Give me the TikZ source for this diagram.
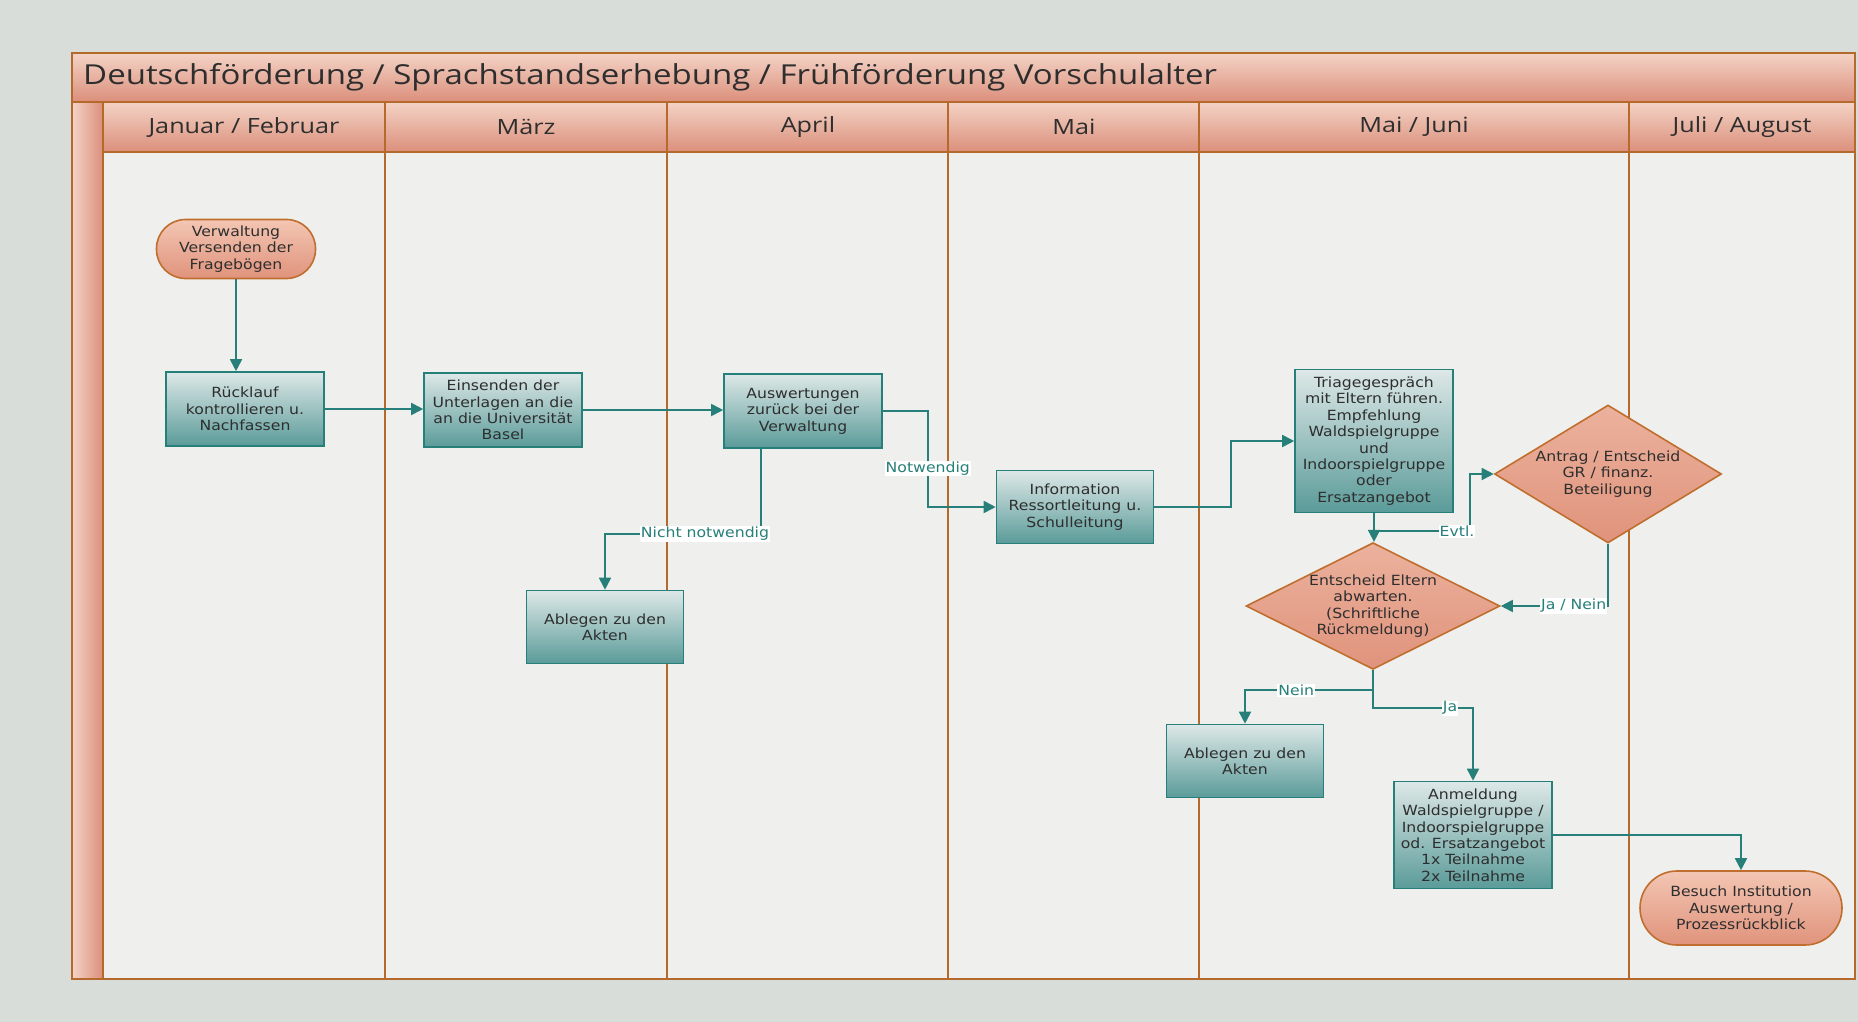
\documentclass[tikz,border=0pt]{standalone}
\usepackage{fontspec}
\setmainfont{Open Sans}[FakeStretch=1.2]
\newfontfamily\boxfont{DejaVu Sans}[FakeStretch=1.12]
\usepackage{xcolor}
\usepackage{tikz}
\usetikzlibrary{arrows.meta,shapes.geometric}
\definecolor{page}{HTML}{D9DDDA}
\definecolor{lanebg}{HTML}{EFF0EE}
\definecolor{laneline}{HTML}{B5692A}
\definecolor{hdrtop}{HTML}{F4D3C6}
\definecolor{hdrbot}{HTML}{DB8F7B}
\definecolor{tealline}{HTML}{267F79}
\definecolor{tealtop}{HTML}{DDE8E7}
\definecolor{tealbot}{HTML}{5A9B99}
\definecolor{peachtop}{HTML}{F3C6B3}
\definecolor{peachbot}{HTML}{E0937C}
\definecolor{peachline}{HTML}{BF6E2E}
\definecolor{ink}{HTML}{2E2E2E}
\newcommand{\boxsize}{\boxfont\fontsize{14}{16.4}\selectfont}
\tikzset{
  hdr/.style={draw=laneline, line width=1.6pt, top color=hdrtop, bottom color=hdrbot},
  strip/.style={draw=laneline, line width=1.6pt, left color=hdrtop, right color=hdrbot},
  lane/.style={draw=laneline, line width=2pt},
  titletxt/.style={text=ink, font=\fontsize{27.5}{32}\selectfont, inner sep=0pt},
  month/.style={text=ink, font=\fontsize{21}{25}\selectfont, inner sep=0pt},
  proc/.style={rectangle, draw=tealline, line width=1.6pt, top color=tealtop, bottom color=tealbot,
    minimum width=158pt, minimum height=74pt, align=center, text=ink, font=\boxsize, inner sep=1pt},
  term/.style={rectangle, draw=peachline, line width=1.6pt, top color=peachtop, bottom color=peachbot,
    align=center, text=ink, font=\boxsize, inner sep=1pt},
  dec/.style={diamond, draw=peachline, line width=1.6pt, top color=peachtop!60!peachbot, bottom color=peachbot,
    aspect=2, inner sep=0pt, align=center, text=ink, font=\boxsize},
  flow/.style={draw=tealline, line width=1.8pt, -{Triangle[length=12pt,width=12pt]}},
  lab/.style={fill=white, text=tealline, inner sep=1pt, font=\boxsize}
}

\begin{document}
\begin{tikzpicture}[x=1pt,y=-1pt]
  \useasboundingbox (0,0) rectangle (1858,1022);
  % page and pool
  \fill[page] (0,0) rectangle (1858,1022);
  \fill[lanebg] (72,53) rectangle (1855,979);

  % title band, month band, left strip
  \draw[hdr] (72,53) rectangle (1855,102);
  \node[titletxt, anchor=west] (title) at (83,77) {Deutschförderung / Sprachstandserhebung / Frühförderung Vorschulalter};
  \draw[hdr] (103,102) rectangle (1855,152);
  \draw[strip] (72,102) rectangle (103,979);

  % lanes
  \draw[lane] (385,102) -- (385,979);
  \draw[lane] (667,102) -- (667,979);
  \draw[lane] (948,102) -- (948,979);
  \draw[lane] (1199,102) -- (1199,979);
  \draw[lane] (1629,102) -- (1629,979);
  \draw[lane] (72,53) rectangle (1855,979);

  \node[month] (hjan) at (244,127) {Januar / Februar};
  \node[month] (hmar) at (526,127) {März};
  \node[month] (hapr) at (808,127) {April};
  \node[month] (hmai) at (1074,127) {Mai};
  \node[month] (hmaijun) at (1414,127) {Mai / Juni};
  \node[month] (hjul) at (1742,127) {Juli / August};

  % steps
  \node[term, rounded corners=29pt, minimum width=159pt, minimum height=59pt] (verw) at (236,249) {Verwaltung\\Versenden der\\Fragebögen};
  \node[proc] (ruck) at (245,409) {Rücklauf\\kontrollieren u.\\Nachfassen};
  \node[proc] (eins) at (503,410) {Einsenden der\\Unterlagen an die\\an die Universität\\Basel};
  \node[proc] (ausw) at (803,411) {Auswertungen\\zurück bei der\\Verwaltung};
  \node[proc, minimum width=157pt, minimum height=73pt] (abl1) at (605,627) {Ablegen zu den\\Akten};
  \node[proc, minimum width=157pt, minimum height=73pt] (info) at (1075,507) {Information\\Ressortleitung u.\\Schulleitung};
  \node[proc, minimum height=143pt] (triage) at (1374,441) {Triagegespräch\\mit Eltern führen.\\Empfehlung\\Waldspielgruppe\\und\\Indoorspielgruppe\\oder\\Ersatzangebot};
  \node[dec, minimum width=227pt, minimum height=138pt, aspect=1.64] (antrag) at (1608,474) {Antrag / Entscheid\\GR / finanz.\\Beteiligung};
  \node[dec, minimum width=254pt, minimum height=123pt] (entsch) at (1373,606) {Entscheid Eltern\\abwarten.\\(Schriftliche\\Rückmeldung)};
  \node[proc, minimum width=157pt, minimum height=73pt] (abl2) at (1245,761) {Ablegen zu den\\Akten};
  \node[proc, minimum height=107pt] (anm) at (1473,835) {Anmeldung\\Waldspielgruppe /\\Indoorspielgruppe\\od. Ersatzangebot\\1x Teilnahme\\2x Teilnahme};
  \node[term, rounded corners=37pt, minimum width=202pt, minimum height=74pt] (besuch) at (1741,908) {Besuch Institution\\Auswertung /\\Prozessrückblick};

  % connectors
  \draw[flow] (verw.south) -- (verw.south |- ruck.north);
  \draw[flow] (ruck.east) -- (ruck.east -| eins.west);
  \draw[flow] (eins.east) -- (eins.east -| ausw.west);
  \draw[flow] (ausw.east) -- ++(45,0) |- node[lab, pos=0.3] {Notwendig} (info.west);
  \draw[flow] ([xshift=38pt]ausw.south west) -- ++(0,85) -| node[lab, pos=0.18] {Nicht notwendig} (abl1.north);
  \draw[flow] (info.east) -- ++(77,0) |- (triage.west);
  \draw[flow] (triage.south) -- (triage.south |- entsch.north);
  \draw[flow] (triage.south) -- ++(0,18) -- ++(96,0) node[lab, xshift=-13pt] {Evtl.} |- (antrag.west);
  \draw[flow] (antrag.south) |- node[lab, pos=0.66] {Ja / Nein} (entsch.east);
  \draw[flow] (entsch.south) -- ++(0,20) -| node[lab, pos=0.3] {Nein} (abl2.north);
  \draw[flow] (entsch.south) -- ++(0,38) -| node[lab, pos=0.385] {Ja} (anm.north);
  \draw[flow] (anm.east) -| (besuch.north);
\end{tikzpicture}
\end{document}
